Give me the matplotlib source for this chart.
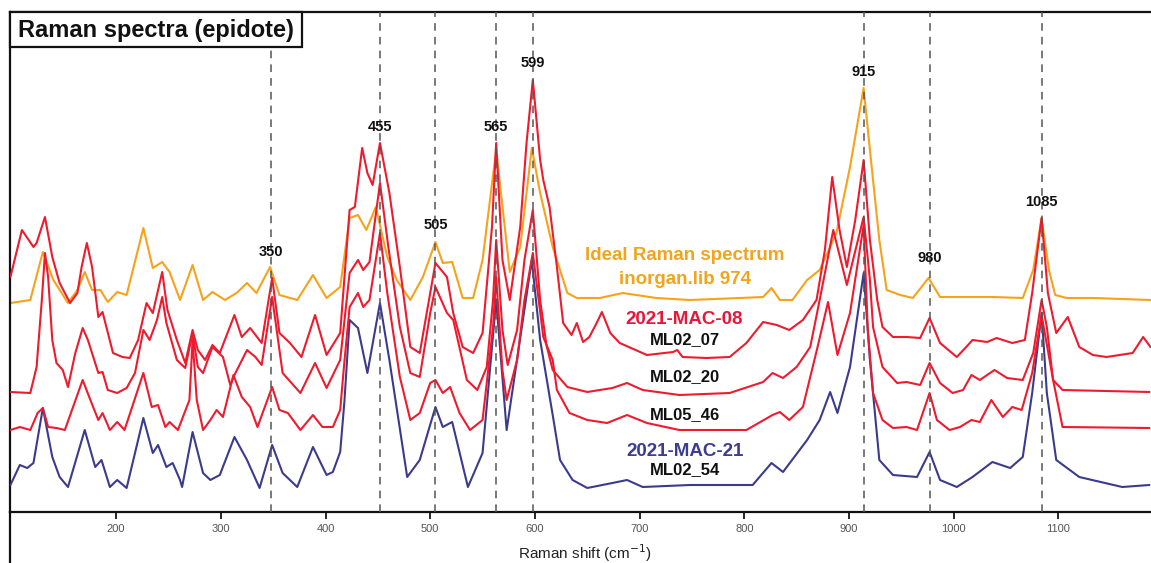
import matplotlib
matplotlib.use("Agg")
import matplotlib.pyplot as plt
from matplotlib.patches import Rectangle
from matplotlib.lines import Line2D

plt.rcParams['font.family'] = ['Liberation Sans', 'DejaVu Sans']

# ---------------- data (Raman shift in cm-1, offset intensity a.u.) ----------------
wn_ideal = [99, 118, 130, 140, 154, 163, 170, 177, 185, 192, 201, 210, 226, 235, 244, 251, 261, 273,
            283, 292, 304, 315, 325, 334, 347, 356, 373, 388, 401, 414, 423, 431, 439, 448,
            459, 468, 481, 493, 505, 512, 521, 531, 541, 550, 563, 576, 586, 597, 605, 617, 631, 640,
            662, 684, 716, 748, 796, 818, 826, 834, 846, 860, 872, 888, 901, 914, 920, 929, 936, 949,
            961, 976, 987, 1006, 1037, 1066, 1076, 1084, 1091, 1097, 1108, 1133, 1188]
int_ideal = [209, 212, 260, 232, 209, 222, 240, 222, 222, 210, 220, 217, 284, 244, 250, 240, 212, 247,
             212, 220, 212, 219, 229, 219, 245, 217, 212, 237, 214, 225, 294, 297, 282, 305,
             255, 232, 212, 235, 270, 249, 250, 214, 214, 252, 362, 240, 265, 364, 319, 265, 219, 214,
             214, 219, 214, 212, 214, 215, 224, 212, 212, 232, 242, 279, 345, 424, 362, 272, 222, 217,
             214, 234, 215, 215, 215, 214, 242, 294, 242, 217, 214, 214, 212]

wn_ml0207 = [99, 110, 121, 124, 132, 139, 146, 156, 163, 167, 172, 177, 183, 187, 197, 206, 213, 221,
             229, 235, 244, 249, 258, 266, 273, 278, 285, 292, 299, 313, 320, 328, 339, 349, 356, 366,
             377, 390, 401, 414,
             423, 428, 435, 440, 445, 452, 461, 471, 481, 490, 500, 505, 516, 522, 531, 541, 550, 559,
             563, 569, 576, 586, 592, 598, 605, 608, 614, 621, 627, 635, 640, 646, 652, 659, 664, 672,
             681, 707, 732, 736, 741, 764, 786, 802, 818, 831, 843, 856, 869, 877, 884, 891, 898, 906,
             914, 920, 927, 932, 942, 955, 968, 977, 987, 1003, 1012, 1018, 1032, 1041, 1056, 1068,
             1075, 1084, 1090, 1098, 1109, 1120, 1133, 1146, 1171, 1181, 1188]
int_ml0207 = [235, 282, 265, 269, 295, 255, 229, 209, 219, 245, 269, 245, 195, 200, 159, 155, 154, 172,
              209, 199, 240, 202, 172, 149, 182, 162, 152, 167, 159, 197, 175, 184, 169, 234, 179, 169,
              155, 197, 157, 179,
              302, 305, 364, 339, 327, 369, 319, 245, 165, 159, 219, 249, 235, 199, 165, 159, 179, 285,
              369, 252, 212, 285, 369, 432, 352, 332, 305, 245, 189, 177, 189, 170, 175, 189, 200, 179,
              169, 157, 160, 162, 155, 154, 155, 169, 190, 187, 182, 192, 212, 262, 335, 282, 245, 292,
              352, 272, 212, 185, 175, 175, 174, 194, 169, 155, 165, 172, 170, 174, 169, 172,
              219, 294, 219, 179, 195, 165, 157, 155, 159, 175, 165]

wn_ml0220 = [99, 118, 124, 129, 132, 135, 139, 143, 149, 154, 161, 168, 173, 183, 187, 192, 201, 210,
             218, 226, 232, 239, 244, 248, 258, 266, 273, 278, 283, 292, 302, 309, 313, 325, 333, 339,
             349, 359, 376, 390, 401, 414,
             423, 431, 436, 442, 452, 460, 471, 481, 490, 500, 505, 516, 522, 535, 545, 554, 560, 563,
             569, 574, 583, 590, 598, 605, 611, 617, 631, 650, 674, 688, 703, 738, 786, 818, 827, 837,
             850, 863, 872, 885, 898, 914, 920, 923, 932, 946, 955, 968, 977, 987, 999, 1009, 1017,
             1025, 1039, 1051, 1066, 1076, 1084, 1089, 1095, 1104, 1187]
int_ml0220 = [120, 119, 145, 212, 259, 235, 172, 149, 142, 125, 159, 184, 172, 139, 140, 122, 119, 124,
              139, 182, 172, 192, 215, 189, 152, 144, 179, 145, 139, 165, 155, 127, 137, 162, 155, 147,
              215, 139, 119, 149, 124, 152,
              239, 252, 242, 250, 329, 265, 185, 139, 135, 199, 225, 199, 192, 132, 122, 145, 212, 272,
              182, 147, 182, 252, 302, 212, 167, 142, 125, 120, 124, 129, 122, 117, 119, 130, 139, 134,
              145, 165, 212, 282, 227, 295, 232, 185, 145, 129, 130, 127, 149, 129, 119, 122, 137,
              132, 142, 134, 132, 159, 212, 185, 132, 122, 120]

wn_ml0546 = [99, 108, 118, 125, 130, 135, 143, 151, 168, 178, 183, 187, 194, 201, 208, 226, 234, 240,
             247, 251, 259, 270, 273, 277, 283, 290, 296, 302, 312, 320, 328, 335, 349, 356, 364, 376,
             388, 397, 407, 414, 418,
             423, 431, 436, 442, 452,
             459, 471, 481, 490, 500, 505, 512, 519, 528, 538, 550, 560, 563, 569, 573, 583, 590, 598,
             608, 617, 621, 633, 650, 669, 688, 707, 738, 802, 827, 834, 843, 856, 870, 880, 889, 901,
             914, 918, 923, 932, 942, 955, 965, 977, 984, 996, 1006, 1017, 1025, 1036, 1047, 1056,
             1065, 1075, 1084, 1095, 1104, 1187]
int_ml0546 = [82, 85, 82, 99, 104, 85, 84, 82, 132, 105, 92, 99, 82, 90, 82, 139, 105, 107,
              85, 90, 82, 112, 172, 112, 82, 92, 102, 95, 137, 115, 105, 85, 125, 102, 99, 82,
              97, 85, 85, 102, 150,
              205, 219, 205, 212, 279,
              219, 135, 92, 99, 129, 132, 119, 125, 99, 82, 92, 185, 235, 142, 112, 152, 212, 259,
              175, 152, 122, 99, 92, 89, 97, 89, 82, 82, 97, 100, 92, 105, 165, 210, 157, 199,
              287, 182, 119, 92, 84, 85, 82, 119, 92, 82, 85, 92, 90, 112, 95, 105,
              102, 139, 197, 132, 85, 84]

wn_ml0254 = [99, 108, 115, 121, 130, 139, 146, 154, 170, 180, 186, 194, 201, 210, 226, 235, 240, 248,
             254, 261, 263, 273, 283, 290, 299, 313, 325, 337, 349, 359, 373, 388, 401, 407, 414, 418,
             423, 431, 440, 452,
             461, 478, 490, 505, 512, 521, 536, 550, 563, 573, 597, 605, 617, 624, 636, 650, 674, 688,
             703, 748, 808, 826, 837, 860, 872, 882, 889, 901, 914, 920, 929, 942, 965, 977, 987,
             1003, 1018, 1037, 1054, 1066, 1075, 1084, 1089, 1098, 1120, 1161, 1187]
int_ml0254 = [27, 47, 44, 49, 104, 55, 35, 25, 82, 45, 52, 25, 32, 24, 94, 59, 67, 45,
              49, 32, 25, 80, 39, 32, 37, 75, 52, 24, 67, 39, 25, 65, 37, 40, 60, 110,
              192, 184, 139, 209,
              152, 35, 52, 105, 85, 90, 25, 59, 212, 82, 252, 172, 97, 52, 32, 24, 29, 32,
              25, 27, 27, 49, 40, 72, 92, 120, 99, 145, 239, 152, 52, 37, 35, 60, 32,
              25, 35, 50, 44, 55, 119, 199, 119, 52, 35, 25, 27]

peak_positions = [348, 452, 505, 563, 598, 914, 977, 1084]
peak_labels = ['350', '455', '505', '565', '599', '915', '980', '1085']
peak_label_y = [260, 385, 287, 385, 449, 440, 254, 310]

xticks = [200, 300, 400, 500, 600, 700, 800, 900, 1000, 1100]

# ---------------- figure ----------------
W, H = 1151, 563
fig = plt.figure(figsize=(W / 100, H / 100), dpi=100)
ax = fig.add_axes([10 / W, 51 / H, 1 - 10 / W, 500 / H])

c_orange = '#F7A21B'
c_red = '#EE1B2E'
c_blue = '#3B3B8E'
lw = 1.5
kw = dict(lw=lw, solid_joinstyle='round', solid_capstyle='round')

ax.plot(wn_ml0254, int_ml0254, color=c_blue, zorder=3, **kw)
ax.plot(wn_ml0546, int_ml0546, color=c_red, zorder=3, **kw)
ax.plot(wn_ml0220, int_ml0220, color=c_red, zorder=3, **kw)
ax.plot(wn_ml0207, int_ml0207, color=c_red, zorder=3, **kw)
ax.plot(wn_ideal, int_ideal, color=c_orange, zorder=2, **kw)

for xp in peak_positions:
    ax.axvline(xp, color='#555555', lw=1.1, ls=(0, (5, 4)), zorder=4)

for xp, lab, yl in zip(peak_positions, peak_labels, peak_label_y):
    ax.text(xp, yl, lab, ha='center', va='center', fontsize=10.5, fontweight='bold', color='#111111', zorder=5)

lab_x = 743
ax.text(lab_x, 256, 'Ideal Raman spectrum', ha='center', va='center', fontsize=13.5,
        fontweight='bold', color='#F2A51C', zorder=5)
ax.text(lab_x, 233, 'inorgan.lib 974', ha='center', va='center', fontsize=13.5,
        fontweight='bold', color='#F2A51C', zorder=5)
ax.text(lab_x, 192, '2021-MAC-08', ha='center', va='center', fontsize=13.5,
        fontweight='bold', color='#E8173A', zorder=5)
ax.text(lab_x, 172, 'ML02_07', ha='center', va='center', fontsize=12,
        fontweight='bold', color='#111111', zorder=5)
ax.text(lab_x, 135, 'ML02_20', ha='center', va='center', fontsize=12,
        fontweight='bold', color='#111111', zorder=5)
ax.text(lab_x, 97, 'ML05_46', ha='center', va='center', fontsize=12,
        fontweight='bold', color='#111111', zorder=5)
ax.text(lab_x, 60, '2021-MAC-21', ha='center', va='center', fontsize=13.5,
        fontweight='bold', color='#3C3C96', zorder=5)
ax.text(lab_x, 42, 'ML02_54', ha='center', va='center', fontsize=12,
        fontweight='bold', color='#111111', zorder=5)

ax.set_xlim(98.6, 1188.5)
ax.set_ylim(0, 500)
ax.set_yticks([])
ax.set_xticks(xticks)
ax.set_xticklabels([str(t) for t in xticks], fontsize=8, color='#555555')
ax.tick_params(axis='x', direction='out', length=5, width=1.2, color='black', pad=4)

for s in ['left', 'top', 'bottom']:
    ax.spines[s].set_linewidth(1.6)
    ax.spines[s].set_color('#111111')
ax.spines['right'].set_visible(False)

# title box
ax.add_patch(Rectangle((0, 0.93), 292 / 1141, 0.07, transform=ax.transAxes,
                       facecolor='white', edgecolor='#111111', lw=1.6, zorder=6, clip_on=False))
ax.text(8 / 1141, 0.964, 'Raman spectra (epidote)', transform=ax.transAxes, ha='left', va='center',
        fontsize=17, fontweight='bold', color='#111111', zorder=7)

# x label
fig.text(585 / W, 1 - 553 / H, 'Raman shift (cm$^{-1}$)', ha='center', va='center',
         fontsize=11, color='#222222')

# left frame line continuing below axis
fig.add_artist(Line2D([10 / W, 10 / W], [0, 51 / H], color='#111111', lw=1.6))

fig.savefig('out.png', dpi=100)
